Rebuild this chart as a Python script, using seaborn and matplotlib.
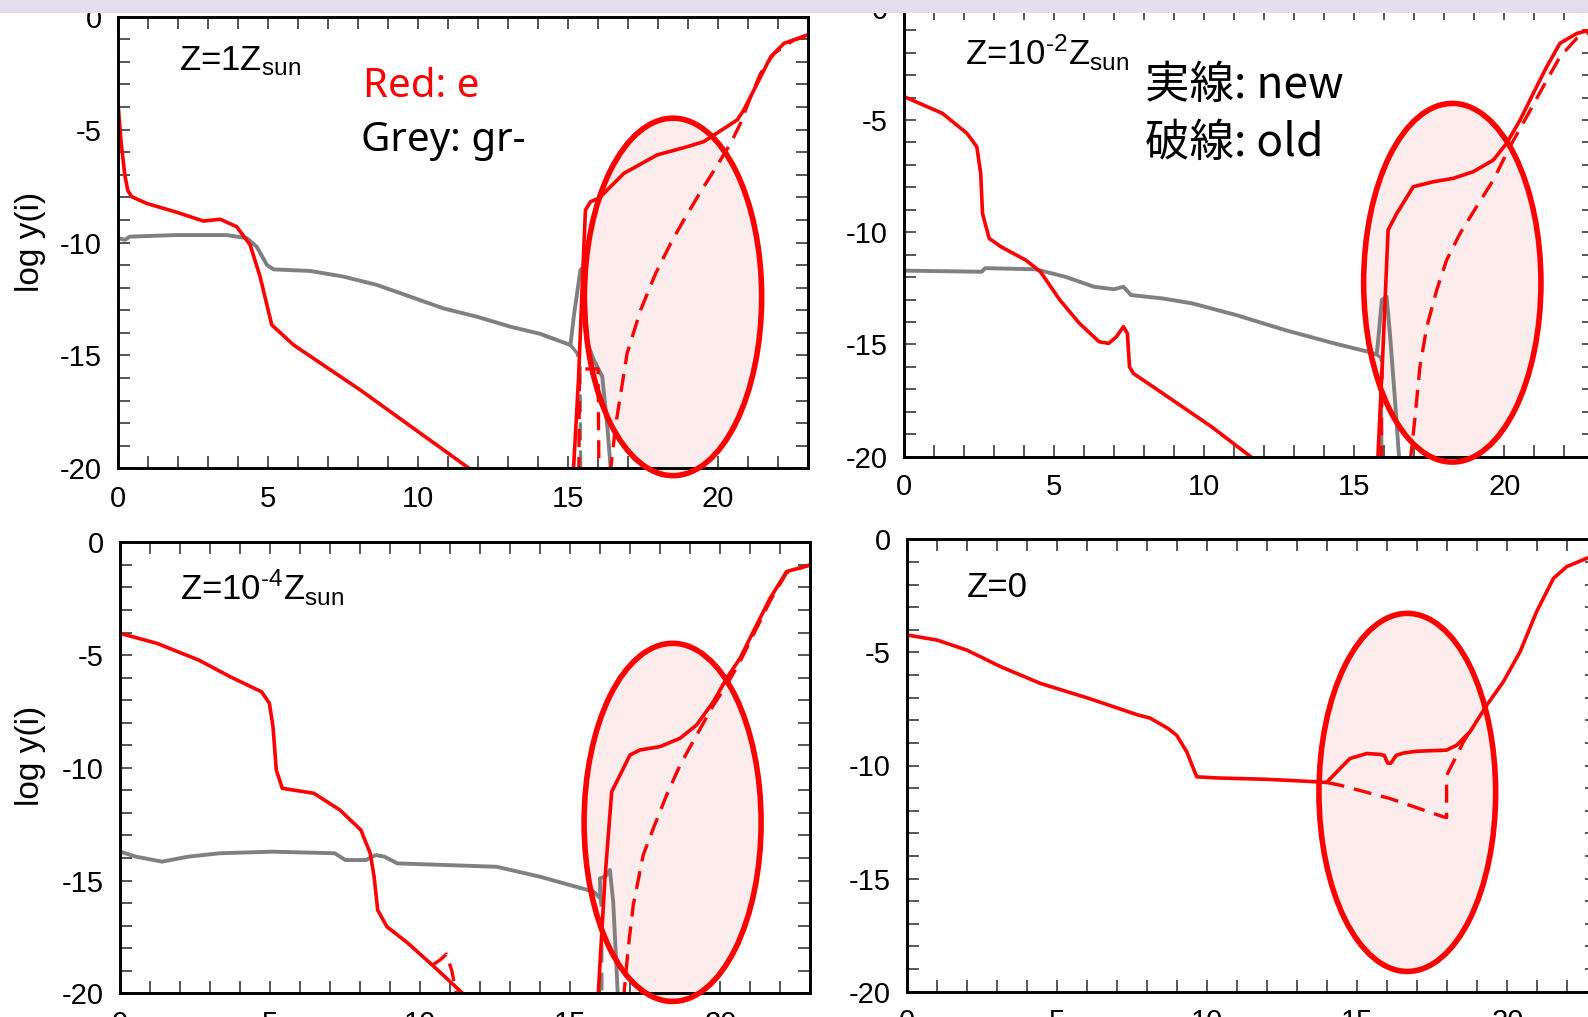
import numpy as np
import pandas as pd
import matplotlib
matplotlib.use("Agg")
import matplotlib.pyplot as plt
import seaborn as sns
from matplotlib.patches import Ellipse, Rectangle
from matplotlib.ticker import MultipleLocator

nan = np.nan

# ---- Z = 1 Z_sun ----------------------------------------------------------
z1_e_new_x = [0.0, 0.10, 0.22, 0.32, 0.45, 0.95, 1.95, 2.84, 3.40, 3.95, 4.40, 4.73,
              5.12, 5.85, 8.07, 11.75, nan,
              15.17, 15.35, 15.50, 15.58, 15.75, 16.03, 16.86, 17.97, 18.97, 19.53,
              20.64, 20.86, 21.31, 21.76, 22.20, 22.98]
z1_e_new_y = [-3.95, -5.6, -7.0, -7.7, -7.97, -8.27, -8.66, -9.05, -8.97, -9.30, -10.11, -11.51,
              -13.65, -14.54, -16.53, -20.05, nan,
              -20.3, -16.0, -11.0, -8.56, -8.19, -8.04, -6.94, -6.12, -5.76, -5.53,
              -4.57, -4.13, -2.95, -1.77, -1.18, -0.81]
z1_e_old_x = [15.36, 15.38, 16.00, 16.03, nan,
              16.40, 16.58, 16.97, 17.42, 17.92, 18.42, 18.86, 19.42, 19.98, 20.42,
              20.75, 21.09, 21.42, 21.87, 22.53, 23.0]
z1_e_old_y = [-20.3, -15.6, -15.6, -20.3, nan,
              -20.3, -18.16, -14.9, -12.99, -11.37, -10.04, -9.0, -7.75, -6.57, -5.61,
              -4.72, -3.54, -2.51, -1.62, -1.03, -0.85]
z1_gr_new_x = [0.0, 0.23, 0.39, 1.95, 3.62, 4.29, 4.62, 4.96, 5.18, 6.40, 7.51, 8.63,
               9.74, 10.85, 11.97, 13.08, 14.08, 15.08, 15.19, 15.41, 15.50, 15.64,
               15.86, 16.14, 16.31, 16.45]
z1_gr_new_y = [-9.81, -9.88, -9.74, -9.67, -9.67, -9.81, -10.19, -11.0, -11.19, -11.26, -11.51, -11.88,
               -12.40, -12.92, -13.29, -13.73, -14.05, -14.54, -13.29, -11.22, -11.10, -14.46,
               -15.20, -15.94, -18.16, -20.5]
z1_gr_old_x = [14.08, 15.08, 15.30, 15.40, 15.42]
z1_gr_old_y = [-14.05, -14.54, -14.90, -15.50, -20.5]

# ---- Z = 1e-2 Z_sun -------------------------------------------------------
z2_e_new_x = [0.0, 1.27, 2.09, 2.42, 2.55, 2.61, 2.83, 3.23, 4.05, 4.54, 5.19, 5.84,
              6.50, 6.82, 7.07, 7.31, 7.44, 7.51, 7.64, 8.62, 10.25, 11.60, nan,
              15.78, 15.95, 16.13, 16.42, 16.97, 17.64, 18.30, 18.97, 19.64, 20.08,
              20.53, 20.97, 21.42, 21.86, 22.42, 23.0]
z2_e_new_y = [-3.96, -4.70, -5.59, -6.19, -7.38, -9.16, -10.27, -10.65, -11.24, -11.76, -13.02, -14.06,
              -14.88, -14.95, -14.66, -14.21, -14.51, -16.0, -16.29, -17.18, -18.67, -20.05, nan,
              -20.3, -15.5, -9.90, -9.16, -7.97, -7.75, -7.60, -7.30, -6.78, -6.04,
              -5.0, -3.81, -2.62, -1.58, -1.14, -0.95]
z2_e_old_x = [15.90, 15.93, nan,
              16.86, 17.03, 17.19, 17.42, 17.75, 18.08, 18.53, 19.08, 19.64, 20.19,
              20.75, 21.30, 21.86, 22.42, 23.0]
z2_e_old_y = [-20.3, -16.0, nan,
              -20.3, -18.22, -16.0, -14.21, -12.58, -11.24, -10.05, -8.86, -7.67, -6.19,
              -4.85, -3.51, -2.18, -1.36, -1.0]
z2_gr_new_x = [0.0, 2.58, 2.70, 4.38, 5.36, 6.33, 6.99, 7.31, 7.56, 8.62, 9.60, 11.07,
               12.70, 14.33, 15.48, 15.75, 15.80, 15.92, 16.08, 16.19, 16.36, 16.52]
z2_gr_new_y = [-11.71, -11.76, -11.60, -11.65, -11.98, -12.43, -12.54, -12.43, -12.80, -12.95, -13.17, -13.69,
               -14.36, -14.95, -15.33, -15.45, -14.80, -13.02, -12.87, -14.50, -17.48, -20.5]
z2_gr_old_x = [15.48, 15.75, 15.90, 15.92]
z2_gr_old_y = [-15.33, -15.45, -15.60, -20.5]

# ---- Z = 1e-4 Z_sun -------------------------------------------------------
z4_e_new_x = [0.0, 1.22, 2.61, 3.66, 4.71, 4.97, 5.09, 5.20, 5.40, 6.45, 7.32, 8.02,
              8.33, 8.46, 8.58, 8.89, 9.59, 10.46, 11.45, nan,
              15.92, 16.15, 16.38, 16.66, 16.99, 17.32, 17.99, 18.66, 19.21, 19.77,
              20.21, 20.66, 21.10, 21.66, 22.21, 23.0]
z4_e_new_y = [-4.04, -4.48, -5.22, -5.96, -6.63, -7.14, -8.18, -10.1, -10.91, -11.13, -11.87, -12.76,
              -13.79, -14.83, -16.31, -17.05, -17.78, -18.82, -20.05, nan,
              -20.3, -15.0, -11.06, -10.32, -9.43, -9.21, -9.06, -8.69, -8.10, -7.07,
              -6.03, -5.14, -3.96, -2.48, -1.30, -1.0]
z4_e_old_x = [10.40, 10.68, 10.87, 11.05, 11.25, nan,
              16.77, 16.93, 17.10, 17.43, 17.77, 18.21, 18.66, 19.21, 19.77, 20.21,
              20.66, 21.10, 21.66, 22.21, 23.0]
z4_e_old_y = [-18.75, -18.50, -18.26, -19.0, -20.3, nan,
              -20.3, -18.0, -16.08, -13.87, -12.68, -11.21, -9.88, -8.55, -7.22, -6.33,
              -5.29, -4.10, -2.60, -1.35, -1.0]
z4_gr_new_x = [0.0, 0.52, 1.39, 2.27, 3.31, 5.06, 7.15, 7.50, 8.19, 8.51, 8.80, 9.24,
               10.81, 12.55, 13.99, 15.77, 16.00, 15.99, 16.16, 16.32, 16.43, 16.60]
z4_gr_new_y = [-13.72, -13.94, -14.16, -13.94, -13.79, -13.72, -13.79, -14.09, -14.09, -13.87, -13.94, -14.24,
               -14.31, -14.39, -14.83, -15.49, -15.78, -14.90, -14.83, -14.53, -15.94, -20.5]
z4_gr_old_x = [15.77, 16.00, 16.05, 16.05]
z4_gr_old_y = [-15.49, -15.78, -16.30, -20.5]

# ---- Z = 0 ----------------------------------------------------------------
z0_e_new_x = [0.0, 1.01, 1.99, 3.13, 4.44, 6.07, 7.70, 8.09, 8.68, 8.98, 9.32, 9.65,
              10.32, 11.98, 13.65, 13.98, 14.32, 14.76, 15.32, 15.76, 15.90, 16.02,
              16.12, 16.30, 16.54, 16.98, 17.98, 18.32, 18.76, 19.32, 19.87, 20.43,
              20.98, 21.54, 21.98, 22.65, 23.0]
z0_e_new_y = [-4.23, -4.46, -4.90, -5.64, -6.37, -7.04, -7.77, -7.90, -8.35, -8.66, -9.40, -10.50,
              -10.55, -10.61, -10.72, -10.75, -10.28, -9.69, -9.47, -9.51, -9.55, -9.90,
              -9.90, -9.55, -9.45, -9.37, -9.32, -9.10, -8.51, -7.33, -6.30, -4.97,
              -3.20, -1.73, -1.21, -0.84, -0.70]
z0_e_old_x = [13.98, 14.43, 16.09, 17.87, 17.98, 17.98, 18.54, 18.80]
z0_e_old_y = [-10.75, -10.87, -11.46, -12.27, -12.30, -10.44, -8.96, -8.40]

panel_titles = [r"Z=1Z$_{\text{sun}}$", r"Z=10$^{\text{-2}}$Z$_{\text{sun}}$",
                r"Z=10$^{\text{-4}}$Z$_{\text{sun}}$", "Z=0"]
x_ticks = [0, 5, 10, 15, 20]
y_ticks = [0, -5, -10, -15, -20]
y_label = "log y(i)"

RED = "#ff0000"
GREY = "#808080"

sns.set_theme(style="ticks")
plt.rcParams.update({
    "font.family": ["Liberation Sans", "DejaVu Sans"],
    "axes.unicode_minus": False,
    "text.color": "black",
    "axes.labelcolor": "black",
    "xtick.labelcolor": "black",
    "ytick.labelcolor": "black",
    "mathtext.fontset": "custom",
    "mathtext.rm": "Liberation Sans",
    "mathtext.sf": "Liberation Sans",
    "mathtext.it": "Liberation Sans:italic",
    "mathtext.default": "rm",
})

W, H = 1588, 1017
fig = plt.figure(figsize=(W / 100, H / 100), dpi=100)
fig.patch.set_facecolor("white")


def px_axes(left, top, width, height):
    return fig.add_axes([left / W, 1 - (top + height) / H, width / W, height / H])


def draw(ax, xs, ys, color, lw, dashed=False, z=2):
    xs = np.asarray(xs, float)
    ys = np.asarray(ys, float)
    seg = np.cumsum(np.isnan(xs))
    df = pd.DataFrame({"x": xs, "y": ys, "seg": seg}).dropna()
    ls = (0, (5.4, 3.0)) if dashed else "-"
    sns.lineplot(data=df, x="x", y="y", units="seg", estimator=None, sort=False,
                 color=color, lw=lw, linestyle=ls, ax=ax, legend=False, zorder=z)


def style_axes(ax):
    ax.set_xlim(0, 23)
    ax.set_ylim(-20, 0)
    ax.set(xlabel="", ylabel="")
    ax.set_xticks(x_ticks)
    ax.set_yticks(y_ticks)
    ax.set_xticklabels([str(v) for v in x_ticks])
    ax.set_yticklabels([str(v) for v in y_ticks])
    ax.xaxis.set_minor_locator(MultipleLocator(1))
    ax.yaxis.set_minor_locator(MultipleLocator(1))
    ax.tick_params(which="both", direction="in", length=8.6, width=1.2,
                   color="#3a3a3a", top=True, right=True)
    ax.tick_params(which="major", labelsize=21, pad=12, labelcolor="black")
    for s in ax.spines.values():
        s.set_visible(True)
        s.set_linewidth(2.1)
        s.set_color("black")
    ax.set_facecolor("white")


def oval(ax, cx, cy, w, h):
    ax.add_patch(Ellipse((cx, cy), w, h, facecolor="#fcecec", edgecolor="none",
                         zorder=1.5, clip_on=False))
    ax.add_patch(Ellipse((cx, cy), w, h, facecolor="none", edgecolor=RED,
                         lw=4.0, zorder=5, clip_on=False))


ax_tl = px_axes(118.2, 16.7, 689.8, 451.6)
ax_tr = px_axes(904.2, 7.8, 690, 448.9)
ax_bl = px_axes(120.3, 542.3, 690, 451)
ax_br = px_axes(907.2, 539.3, 690, 452.4)

RED_LW, GREY_LW, DASH_LW = 2.6, 2.8, 2.4

# top-left
oval(ax_tl, 18.50, -12.41, 5.91, 15.83)
draw(ax_tl, z1_gr_old_x, z1_gr_old_y, GREY, DASH_LW, dashed=True, z=2)
draw(ax_tl, z1_gr_new_x, z1_gr_new_y, GREY, GREY_LW, z=2.1)
draw(ax_tl, z1_e_old_x, z1_e_old_y, RED, DASH_LW, dashed=True, z=2.2)
draw(ax_tl, z1_e_new_x, z1_e_new_y, RED, RED_LW, z=2.3)

# top-right
oval(ax_tr, 18.27, -12.25, 5.91, 15.98)
draw(ax_tr, z2_gr_old_x, z2_gr_old_y, GREY, DASH_LW, dashed=True, z=2)
draw(ax_tr, z2_gr_new_x, z2_gr_new_y, GREY, GREY_LW, z=2.1)
draw(ax_tr, z2_e_old_x, z2_e_old_y, RED, DASH_LW, dashed=True, z=2.2)
draw(ax_tr, z2_e_new_x, z2_e_new_y, RED, RED_LW, z=2.3)

# bottom-left
oval(ax_bl, 18.41, -12.42, 5.90, 15.88)
draw(ax_bl, z4_gr_old_x, z4_gr_old_y, GREY, DASH_LW, dashed=True, z=2)
draw(ax_bl, z4_gr_new_x, z4_gr_new_y, GREY, GREY_LW, z=2.1)
draw(ax_bl, z4_e_old_x, z4_e_old_y, RED, DASH_LW, dashed=True, z=2.2)
draw(ax_bl, z4_e_new_x, z4_e_new_y, RED, RED_LW, z=2.3)

# bottom-right
oval(ax_br, 16.67, -11.19, 5.89, 15.83)
draw(ax_br, z0_e_old_x, z0_e_old_y, RED, DASH_LW, dashed=True, z=2.2)
draw(ax_br, z0_e_new_x, z0_e_new_y, RED, RED_LW, z=2.3)

for ax in (ax_tl, ax_tr, ax_bl, ax_br):
    style_axes(ax)


def ftext(x, y, s, **kw):
    kw.setdefault("color", "black")
    fig.text(x / W, 1 - y / H, s, **kw)


# panel captions
ftext(179, 70.7, panel_titles[0], fontsize=25, va="baseline", ha="left")
ftext(965, 65, panel_titles[1], fontsize=25, va="baseline", ha="left")
ftext(180, 600, panel_titles[2], fontsize=25, va="baseline", ha="left")
ftext(967, 597, panel_titles[3], fontsize=25, va="baseline", ha="left")

# y-axis labels
ftext(31, 242, y_label, fontsize=24, rotation=90, ha="center", va="center")
ftext(31, 756, y_label, fontsize=24, rotation=90, ha="center", va="center")

# colour / line-style key
ftext(363, 97, "Red: e", fontsize=29, color=RED, va="baseline", ha="left",
      family=["Noto Sans", "DejaVu Sans"])
ftext(361, 151, "Grey: gr-", fontsize=29, va="baseline", ha="left",
      family=["Noto Sans", "DejaVu Sans"])
ftext(1145, 98, "実線: new", fontsize=32, va="baseline", ha="left",
      family=["Noto Sans CJK JP", "DejaVu Sans"])
ftext(1145, 156, "破線: old", fontsize=32, va="baseline", ha="left",
      family=["Noto Sans CJK JP", "DejaVu Sans"])

# header strip across the top edge
fig.add_artist(Rectangle((0, 1 - 12.7 / H), 1, 12.7 / H, transform=fig.transFigure,
                         facecolor="#e2deec", edgecolor="none", zorder=20))

fig.savefig("out.png", dpi=100)
